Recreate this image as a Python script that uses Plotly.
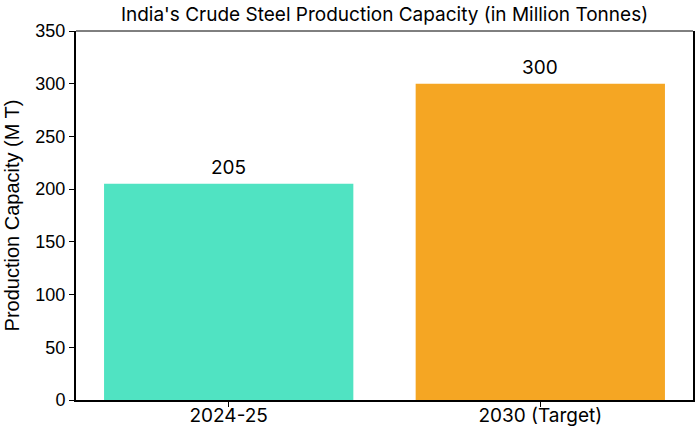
import plotly.graph_objects as go

categories = ["2024-25", "2030 (Target)"]
values = [205, 300]
colors = ["#50E3C2", "#F5A623"]
y_ticks = [0, 50, 100, 150, 200, 250, 300, 350]

GROT = "Inter, Liberation Sans, Arial, sans-serif"
ARIAL = "Liberation Sans, Arial, sans-serif"

fig = go.Figure()
fig.add_trace(go.Bar(
    x=[0, 1], y=values, width=0.8,
    marker=dict(color=colors, line=dict(width=0)),
    hoverinfo="skip",
))

for i, v in enumerate(values):
    fig.add_annotation(x=i, y=v, text=str(v), showarrow=False,
                       yanchor="bottom", yshift=3,
                       font=dict(size=19, color="#000", family=GROT))

fig.add_shape(type="line", xref="paper", yref="paper", x0=0, x1=1, y0=1, y1=1,
              line=dict(color="#000", width=1))

fig.update_layout(
    width=695, height=429,
    margin=dict(l=76, r=2, t=31, b=29, autoexpand=False),
    paper_bgcolor="white", plot_bgcolor="white",
    showlegend=False,
    font=dict(family=ARIAL, size=18, color="#000"),
    title=dict(text="India's Crude Steel Production Capacity (in Million Tonnes)",
               x=(76 + 693) / 2 / 695, xanchor="center", y=1 - 14 / 429, yanchor="middle",
               font=dict(size=19, family=GROT, color="#000")),
    xaxis=dict(range=[-0.49, 1.49], tickvals=[0, 1], ticktext=categories,
               showline=True, linecolor="#000", linewidth=2,
               ticks="outside", ticklen=5, tickwidth=1, tickcolor="#000",
               ticklabelstandoff=-8,
               showgrid=False, zeroline=False,
               tickfont=dict(size=19, family=GROT)),
    yaxis=dict(range=[0, 350], tickvals=y_ticks,
               showline=True, linecolor="#000", linewidth=2, mirror=True,
               ticks="outside", ticklen=5, tickwidth=1, tickcolor="#000",
               showgrid=False, zeroline=False,
               tickfont=dict(size=18, family=ARIAL),
               title=dict(text="Production Capacity (M T)", standoff=10,
                          font=dict(size=20, family=ARIAL))),
)

fig.write_html("out.html", config={"displayModeBar": False},
               post_script="document.body.style.margin='0';document.body.style.overflow='hidden';")
